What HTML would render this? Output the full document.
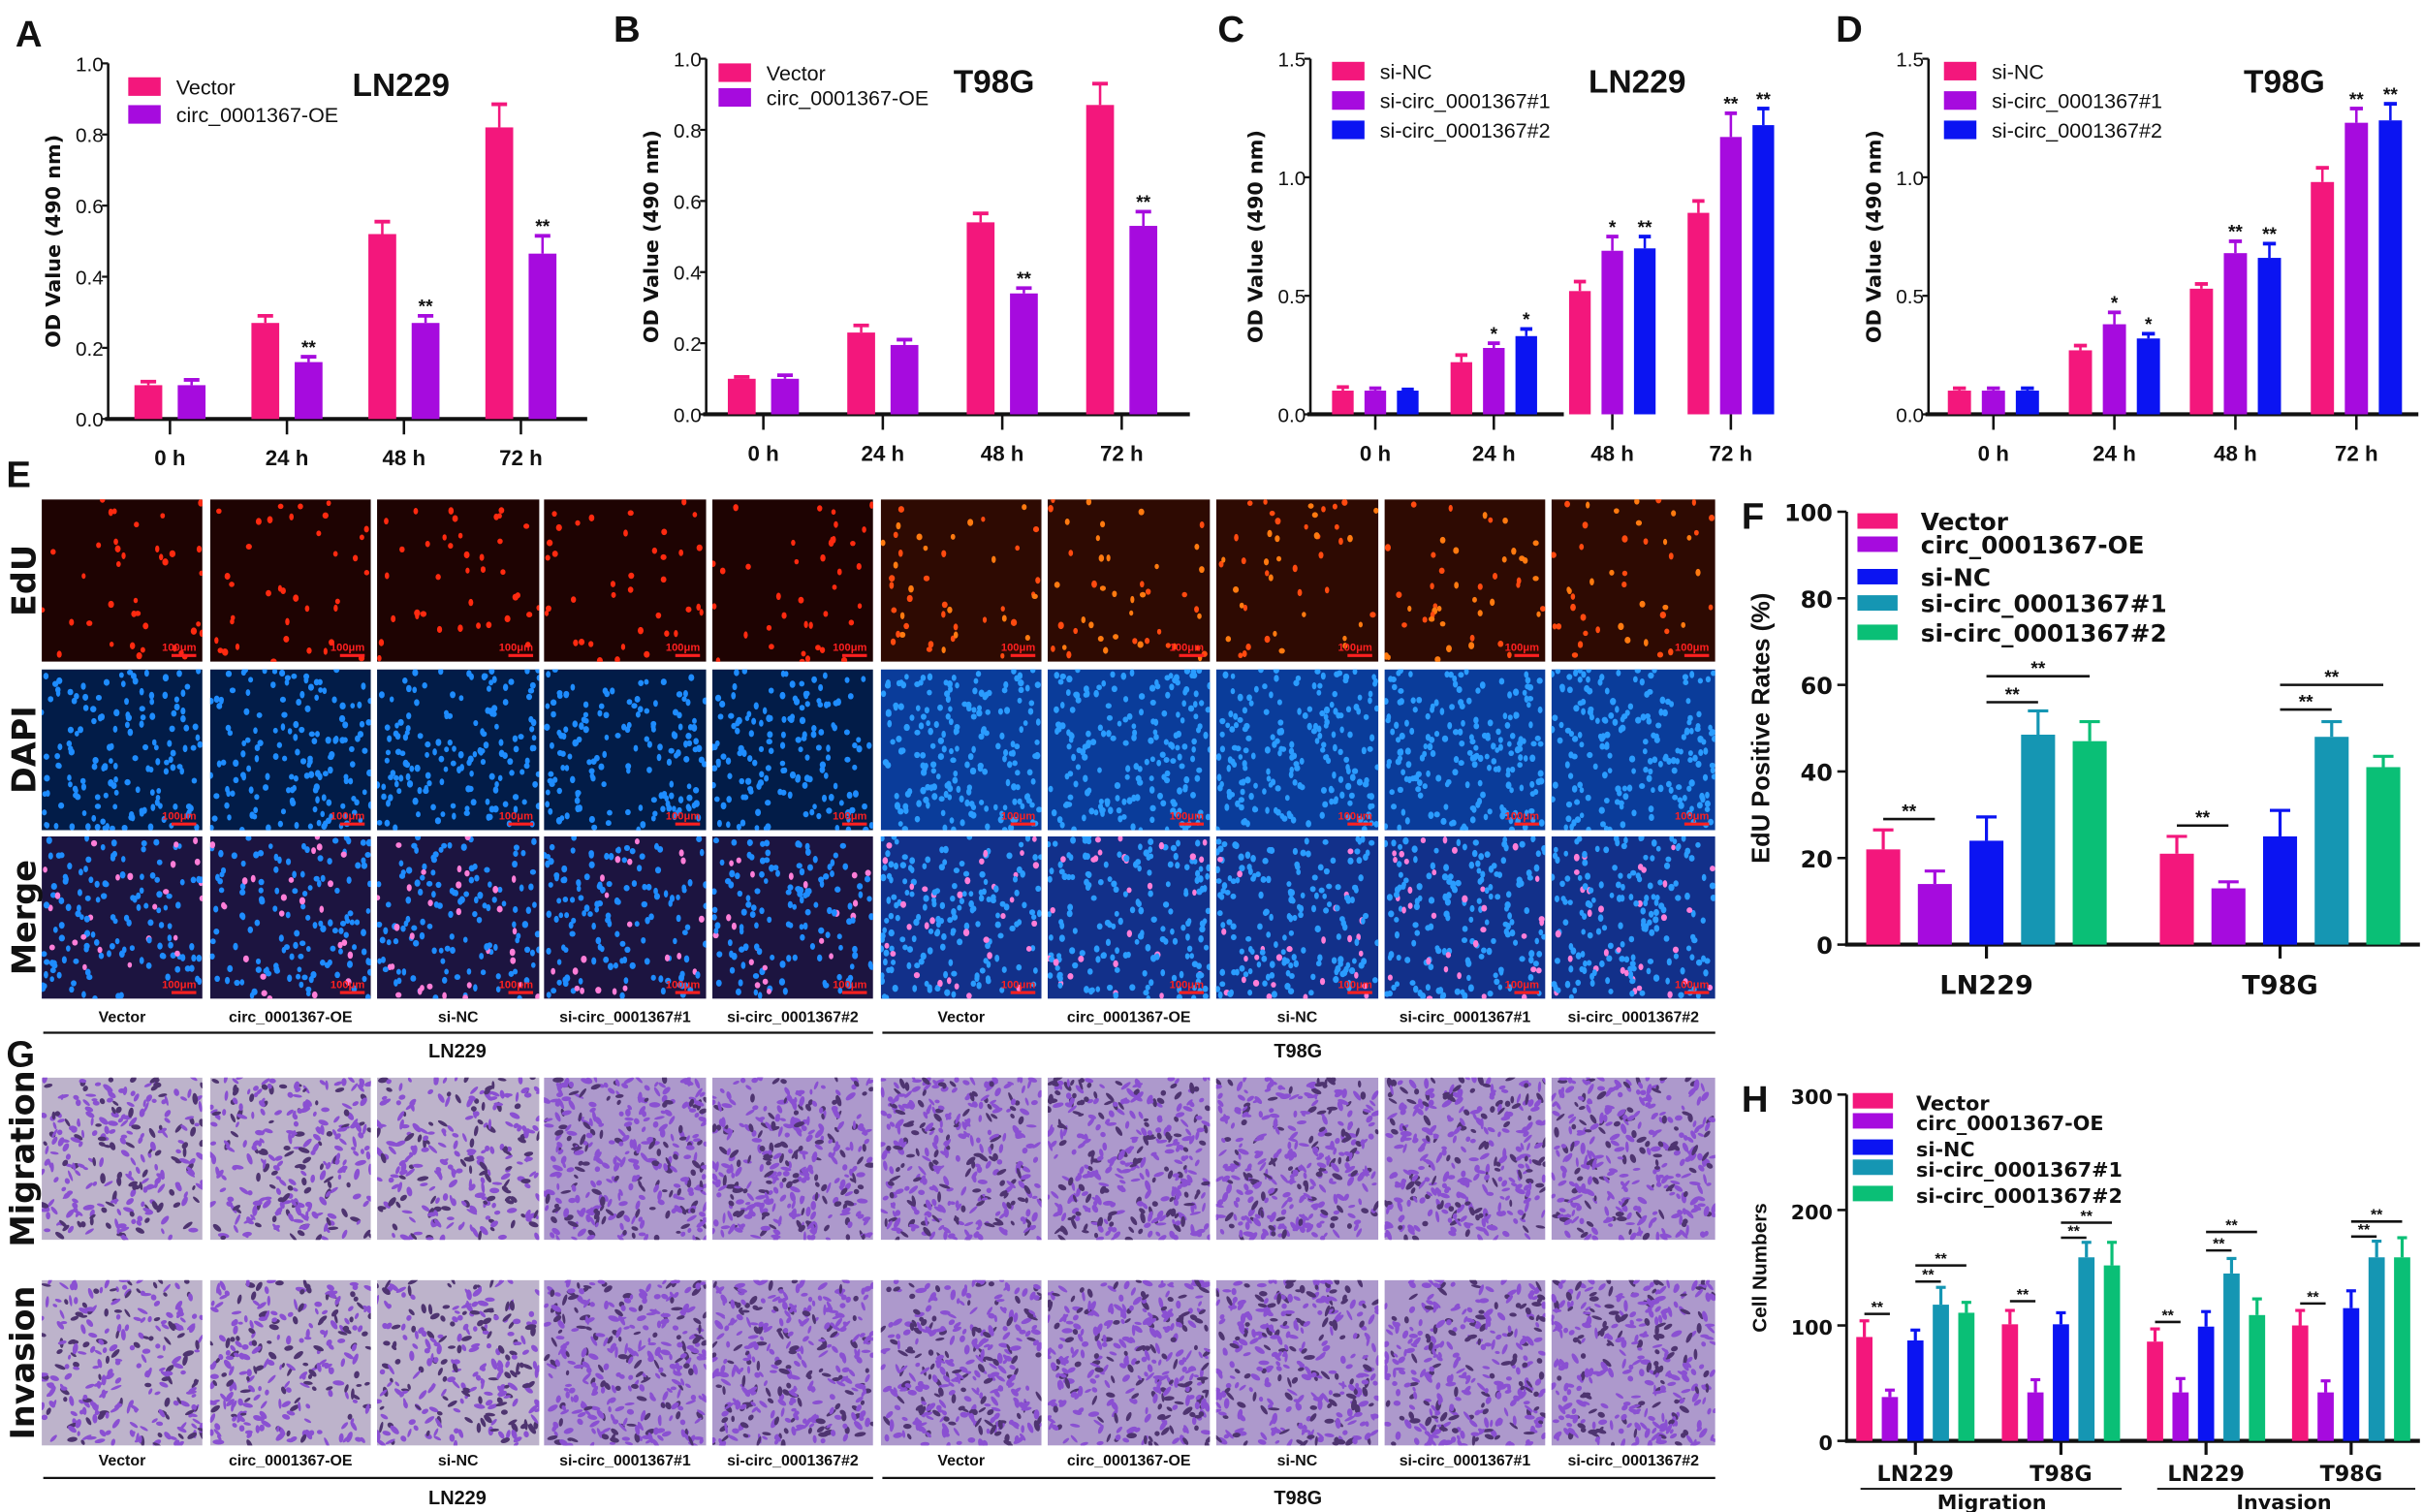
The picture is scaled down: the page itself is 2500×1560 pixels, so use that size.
<!DOCTYPE html>
<html><head><meta charset="utf-8">
<style>
html,body{margin:0;padding:0;background:#fff;}
svg{display:block;font-family:"Liberation Sans",Arial,sans-serif;}
</style></head>
<body>
<svg id="fig" width="2500" height="1560" viewBox="0 0 1568 978" preserveAspectRatio="none" xmlns="http://www.w3.org/2000/svg">
<defs id="defs"></defs>
<rect x="0" y="0" width="1568" height="978" fill="#fff"/>
</svg>
<script>
// ---------- DATA ----------
const timeLabels = ['0 h','24 h','48 h','72 h'];
const aVector    = [0.095, 0.27, 0.52, 0.82];
const aVectorErr = [0.105, 0.29, 0.555, 0.885];
const aOE        = [0.095, 0.16, 0.27, 0.465];
const aOEErr     = [0.11, 0.175, 0.29, 0.515];
const aOEStars   = ['', '**', '**', '**'];
const bVector    = [0.10, 0.23, 0.54, 0.87];
const bVectorErr = [0.105, 0.25, 0.565, 0.93];
const bOE        = [0.10, 0.195, 0.34, 0.53];
const bOEErr     = [0.11, 0.21, 0.355, 0.57];
const bOEStars   = ['', '', '**', '**'];
const cNC        = [0.10, 0.22, 0.52, 0.85];
const cNCErr     = [0.115, 0.25, 0.56, 0.90];
const cSi1       = [0.10, 0.28, 0.69, 1.17];
const cSi1Err    = [0.11, 0.30, 0.75, 1.27];
const cSi2       = [0.10, 0.33, 0.70, 1.22];
const cSi2Err    = [0.105, 0.36, 0.75, 1.29];
const cSi1Stars  = ['', '*', '*', '**'];
const cSi2Stars  = ['', '*', '**', '**'];
const dNC        = [0.10, 0.27, 0.53, 0.98];
const dNCErr     = [0.11, 0.29, 0.55, 1.04];
const dSi1       = [0.10, 0.38, 0.68, 1.23];
const dSi1Err    = [0.11, 0.43, 0.73, 1.29];
const dSi2       = [0.10, 0.32, 0.66, 1.24];
const dSi2Err    = [0.11, 0.34, 0.72, 1.31];
const dSi1Stars  = ['', '*', '**', '**'];
const dSi2Stars  = ['', '*', '**', '**'];
const odTicks05  = [0, 0.2, 0.4, 0.6, 0.8, 1.0];
const odTicks15  = [0, 0.5, 1.0, 1.5];

const groupSeries = ['Vector','circ_0001367-OE','si-NC','si-circ_0001367#1','si-circ_0001367#2'];
const fGroups   = ['LN229','T98G'];
const fValues   = [[22,14,24,48.5,47],[21,13,25,48,41]];
const fErrs     = [[26.5,17,29.5,54,51.5],[25,14.5,31,51.5,43.5]];
const fTicks    = [0,20,40,60,80,100];
const fBrackets = [[0,0,1,29],[0,2,3,56],[0,2,4,62],[1,0,1,27.5],[1,2,3,54.3],[1,2,4,60]];
const hGroups   = ['LN229','T98G','LN229','T98G'];
const hValues   = [[90,38,87,118,111],[101,42,101,159,152],[86,42,99,145,109],[100,42,115,159,159]];
const hErrs     = [[104,44,96,133,120],[113,53,111,172,172],[97,54,112,158,123],[113,52,130,173,176]];
const hTicks    = [0,100,200,300];
const hBrackets = [[0,0,1,110],[0,2,3,138],[0,2,4,152],[1,0,1,121],[1,2,3,176],[1,2,4,189],
                   [2,0,1,103],[2,2,3,165],[2,2,4,181],[3,0,1,119],[3,2,3,177],[3,2,4,190]];

// ---------- HELPERS ----------
const NS='http://www.w3.org/2000/svg';
const svg=document.getElementById('fig');
const defs=document.getElementById('defs');
const PINK='#f3177c', PURPLE='#a60bde', BLUE='#0b14f2', TEAL='#1596b3', GREEN='#0abf76';
function mk(tag,attrs,parent,text){const e=document.createElementNS(NS,tag);for(const k in attrs)e.setAttribute(k,attrs[k]);if(text!==undefined)e.textContent=text;(parent||svg).appendChild(e);return e;}
function txt(parent,x,y,s,size,opts){opts=opts||{};const a={x:x,y:y,'font-size':size,'font-weight':opts.w||'bold','text-anchor':opts.a||'start',fill:opts.fill||'#111'};if(opts.t)a.transform=opts.t;if(opts.ls)a['letter-spacing']=opts.ls;if(opts.f)a['font-family']=opts.f;const e=mk('text',a,parent,s);return e;}

// ---------- TIME CHART (A-D) ----------
function drawTimeChart(c){
  const g=mk('g',{});
  
  
  const y=v=>c.yBot-(v/c.ymax)*(c.yBot-c.yTop);
  const pl=txt(g,c.ax-60,c.yTop-11,c.letter,24);
  
  
  const ya=mk('line',{x1:c.ax,y1:c.yTop,x2:c.ax,y2:c.yBot,stroke:'#111','stroke-width':1.6},g);
  
  
  const xa=mk('line',{x1:c.ax-2,y1:c.yBot,x2:c.axEnd,y2:c.yBot,stroke:'#111','stroke-width':2.6},g);
  
  
  c.ticks.forEach(t=>{
    mk('line',{x1:c.ax-4,y1:y(t),x2:c.ax,y2:y(t),stroke:'#111','stroke-width':1.4},g);
    const tl=txt(g,c.ax-3,y(t)+5,t.toFixed(1),13,{a:'end',w:'normal'});
    
    
  });
  const yt=txt(g,0,0,'OD Value (490 nm)',13,{a:'middle',f:'"DejaVu Sans",sans-serif',t:`translate(${c.ax-31},${(c.yTop+c.yBot)/2}) rotate(-90)`});
  
  
  timeLabels.forEach((lab,i)=>{
    const cx=c.c0+i*c.step;
    mk('line',{x1:cx,y1:c.yBot,x2:cx,y2:c.yBot+10,stroke:'#111','stroke-width':1.6},g);
    const xl=txt(g,cx,c.yBot+30,lab,14,{a:'middle'});
    
    
    c.series.forEach((s,j)=>{
      const bx=cx+c.offsets[j];
      const top=y(s.vals[i]), et=y(s.errs[i]);
      const r=mk('rect',{x:bx-c.bw/2,y:top,width:c.bw,height:c.yBot-top,fill:s.color},g);
      
      
      mk('line',{x1:bx,y1:top,x2:bx,y2:et,stroke:s.color,'stroke-width':1.6},g);
      mk('line',{x1:bx-c.bw*0.28,y1:et,x2:bx+c.bw*0.28,y2:et,stroke:s.color,'stroke-width':2.4},g);
      if(s.stars && s.stars[i]){
        const st=txt(g,bx,et-2,s.stars[i],12,{a:'middle'});
        
        
      }
    });
  });
  c.series.forEach((s,j)=>{
    const ly=c.legY+j*c.legDy;
    const sw=mk('rect',{x:c.legX,y:ly-6,width:21,height:12,fill:s.color},g);
    
    
    const lt=txt(g,c.legX+31,ly+5,s.label,13.5,{w:'normal'});
    
    
  });
  const tt=txt(g,c.titleX,c.titleY,c.title,21);
  
  
}
drawTimeChart({name:'chart-a',letter:'A',ax:70,yTop:41,yBot:271,axEnd:380,ymax:1.0,ticks:odTicks05,c0:110,step:75.7,bw:18,offsets:[-14,14],
  legX:83,legY:56,legDy:18,titleX:228,titleY:62,title:'LN229',
  series:[{key:'vector',label:'Vector',color:PINK,vals:aVector,errs:aVectorErr},{key:'oe',label:'circ_0001367-OE',color:PURPLE,vals:aOE,errs:aOEErr,stars:aOEStars}]});
drawTimeChart({name:'chart-b',letter:'B',ax:457,yTop:38,yBot:268,axEnd:770,ymax:1.0,ticks:odTicks05,c0:494,step:77.3,bw:18,offsets:[-14,14],
  legX:465,legY:47,legDy:16,titleX:617,titleY:60,title:'T98G',
  series:[{key:'vector',label:'Vector',color:PINK,vals:bVector,errs:bVectorErr},{key:'oe',label:'circ_0001367-OE',color:PURPLE,vals:bOE,errs:bOEErr,stars:bOEStars}]});
drawTimeChart({name:'chart-c',letter:'C',ax:848,yTop:38,yBot:268,axEnd:1012,ymax:1.5,ticks:odTicks15,c0:890,step:76.7,bw:14,offsets:[-21,0,21],
  legX:862,legY:46,legDy:19,titleX:1028,titleY:60,title:'LN229',
  series:[{key:'si-nc',label:'si-NC',color:PINK,vals:cNC,errs:cNCErr},{key:'si1',label:'si-circ_0001367#1',color:PURPLE,vals:cSi1,errs:cSi1Err,stars:cSi1Stars},{key:'si2',label:'si-circ_0001367#2',color:BLUE,vals:cSi2,errs:cSi2Err,stars:cSi2Stars}]});
drawTimeChart({name:'chart-d',letter:'D',ax:1248,yTop:38,yBot:268,axEnd:1565,ymax:1.5,ticks:odTicks15,c0:1290,step:78.3,bw:15,offsets:[-22,0,22],
  legX:1258,legY:46,legDy:19,titleX:1452,titleY:60,title:'T98G',
  series:[{key:'si-nc',label:'si-NC',color:PINK,vals:dNC,errs:dNCErr},{key:'si1',label:'si-circ_0001367#1',color:PURPLE,vals:dSi1,errs:dSi1Err,stars:dSi1Stars},{key:'si2',label:'si-circ_0001367#2',color:BLUE,vals:dSi2,errs:dSi2Err,stars:dSi2Stars}]});

// ---------- GROUPED CHART (F,H) ----------
const groupColors=[PINK,PURPLE,BLUE,TEAL,GREEN];
function drawGroupChart(c){
  const g=mk('g',{});
  
  
  const y=v=>c.yBot-(v/c.ymax)*(c.yBot-c.yTop);
  const pl=txt(g,c.ax-68,c.yTop+11,c.letter,24);
  
  
  const ya=mk('line',{x1:c.ax,y1:c.yTop,x2:c.ax,y2:c.yBot,stroke:'#111','stroke-width':1.8},g);
  
  
  const xa=mk('line',{x1:c.ax-1,y1:c.yBot,x2:c.axEnd,y2:c.yBot,stroke:'#111','stroke-width':2.6},g);
  
  
  c.ticks.forEach(t=>{
    mk('line',{x1:c.ax-6,y1:y(t),x2:c.ax,y2:y(t),stroke:'#111','stroke-width':1.6},g);
    const tl=txt(g,c.ax-9,y(t)+6,String(t),c.tickSize,{a:'end',f:'"DejaVu Sans",sans-serif'});
    
    
  });
  const yt=txt(g,0,0,c.yTitle,c.yTitleSize,{a:'middle',t:`translate(${c.yTitleX},${(c.yTop+c.yBot)/2}) rotate(-90)`});
  
  
  const bxOf=(gi,j)=>c.centers[gi]+(j-2)*c.sp;
  c.groups.forEach((lab,gi)=>{
    const cx=c.centers[gi];
    mk('line',{x1:cx,y1:c.yBot,x2:cx,y2:c.yBot+9,stroke:'#111','stroke-width':2},g);
    const xl=txt(g,cx,c.labY,lab,c.labSize,{a:'middle',f:'"DejaVu Sans",sans-serif'});
    
    
    c.values[gi].forEach((v,j)=>{
      const bx=bxOf(gi,j), top=y(v), et=y(c.errs[gi][j]);
      const r=mk('rect',{x:bx-c.bw/2,y:top,width:c.bw,height:c.yBot-top,fill:groupColors[j]},g);
      
      
      mk('line',{x1:bx,y1:top,x2:bx,y2:et,stroke:groupColors[j],'stroke-width':2},g);
      mk('line',{x1:bx-c.bw*0.3,y1:et,x2:bx+c.bw*0.3,y2:et,stroke:groupColors[j],'stroke-width':2},g);
    });
  });
  c.brackets.forEach(b=>{
    const x1=bxOf(b[0],b[1]), x2=bxOf(b[0],b[2]), yy=y(b[3]);
    const bl=mk('line',{x1:x1,y1:yy,x2:x2,y2:yy,stroke:'#111','stroke-width':1.6},g);
    
    
    const st=txt(g,(x1+x2)/2,yy-1,'**',c.starSize,{a:'middle'});
    
    
  });
  groupSeries.forEach((s,j)=>{
    const ly=c.legYs[j];
    const sw=mk('rect',{x:c.legX,y:ly-5,width:26,height:10,fill:groupColors[j]},g);
    
    
    const lt=txt(g,c.legX+41,ly+6,s,c.legSize,{f:'"DejaVu Sans",sans-serif'});
    
    
  });
}
drawGroupChart({name:'chart-f',letter:'F',ax:1195,axEnd:1566,yTop:331,yBot:611,ymax:100,ticks:fTicks,tickSize:15,
  yTitle:'EdU Positive Rates (%)',yTitleSize:16,yTitleX:1145,groups:fGroups,values:fValues,errs:fErrs,brackets:fBrackets,
  centers:[1285.5,1475.5],sp:33.4,bw:22,labY:643,labSize:17,starSize:12,legX:1202,legYs:[337,352,373,390,409],legSize:15.5});
drawGroupChart({name:'chart-h',letter:'H',ax:1195,axEnd:1566,yTop:708,yBot:932,ymax:300,ticks:hTicks,tickSize:13,
  yTitle:'Cell Numbers',yTitleSize:13,yTitleX:1143,groups:hGroups,values:hValues,errs:hErrs,brackets:hBrackets,
  centers:[1239.5,1333.7,1427.6,1521.5],sp:16.5,bw:10.5,labY:958,labSize:14,starSize:10,legX:1199,legYs:[712,725,742,755,772],legSize:13});
(function(){
  const l1=mk('line',{x1:1204,y1:963,x2:1373,y2:963,stroke:'#111','stroke-width':1.2});
  
  
  const l2=mk('line',{x1:1396,y1:963,x2:1563,y2:963,stroke:'#111','stroke-width':1.2});
  
  
  const t1=txt(svg,1289,976,'Migration',13,{a:'middle',f:'"DejaVu Sans",sans-serif'});
  
  
  const t2=txt(svg,1478,976,'Invasion',13,{a:'middle',f:'"DejaVu Sans",sans-serif'});
  
  
})();

// ---------- MICROGRAPHS (E,G) ----------
let seed=12345;
function rnd(){seed|=0;seed=seed+0x6D2B79F5|0;let t=Math.imul(seed^seed>>>15,1|seed);t=t+Math.imul(t^t>>>7,61|t)^t;return((t^t>>>14)>>>0)/4294967296;}
const colX=[[27,131],[136,240],[244,349],[352,457],[461,565],[570,674],[678,783],[787,892],[896,1000],[1004,1110]];
const colNames=['Vector','circ_0001367-OE','si-NC','si-circ_0001367#1','si-circ_0001367#2'];
let clipId=0;
function cell(x0,x1,y0,y1,kind,ci,name){
  const w=x1-x0,h=y1-y0;
  const id='cl'+(clipId++);
  const cp=mk('clipPath',{id:id},defs);mk('rect',{x:x0,y:y0,width:w,height:h},cp);
  const g=mk('g',{'clip-path':`url(#${id})`});
  
  
  const t98=ci>=5;
  if(kind==='edu'){
    mk('rect',{x:x0,y:y0,width:w,height:h,fill:t98?'#2e0a02':'#1e0302'},g);
    const n=t98?45:38;
    for(let i=0;i<n;i++)mk('ellipse',{cx:x0+rnd()*w,cy:y0+rnd()*h,rx:1.3+rnd()*0.7,ry:1.7+rnd()*0.7,fill:t98?(rnd()<0.5?'#ff7a10':'#ff4a10'):'#ff2a10'},g);
  }else if(kind==='dapi'||kind==='merge'){
    mk('rect',{x:x0,y:y0,width:w,height:h,fill:kind==='dapi'?(t98?'#0a3c9a':'#021c48'):(t98?'#12308a':'#1c1440')},g);
    const n=t98?190:150;
    for(let i=0;i<n;i++){
      const pinkDot=kind==='merge'&&rnd()<0.15;
      mk('ellipse',{cx:x0+rnd()*w,cy:y0+rnd()*h,rx:1.4+rnd()*0.6,ry:1.8+rnd()*0.6,fill:pinkDot?'#ff7ed8':(t98?'#2a9cff':'#1e8cff')},g);
    }
  }else{
    const dense=(ci%5>=3)||t98;
    mk('rect',{x:x0,y:y0,width:w,height:h,fill:dense?'#ad99cc':'#bdb3cb'},g);
    const n=dense?330:260;
    for(let i=0;i<n;i++){
      const cx=x0+rnd()*w,cy=y0+rnd()*h,a=rnd()*180;
      mk('ellipse',{cx:cx,cy:cy,rx:1.6+rnd()*2.2,ry:0.9+rnd()*0.9,transform:`rotate(${a} ${cx} ${cy})`,fill:rnd()<0.3?'#4e3470':'#8a50d2'},g);
    }
  }
  if(kind==='edu'||kind==='dapi'||kind==='merge'){
    mk('text',{x:x1-4,y:y1-7,'font-size':7,'text-anchor':'end',fill:'#ff2020','font-weight':'bold'},g,'100μm');
    mk('line',{x1:x1-20,y1:y1-4,x2:x1-4,y2:y1-4,stroke:'#ff2020','stroke-width':2},g);
  }
}
const eRows=[['edu',323,428,'EdU'],['dapi',433,537,'DAPI'],['merge',541,646,'Merge']];
eRows.forEach(r=>{
  colX.forEach((c,ci)=>cell(c[0],c[1],r[1],r[2],r[0],ci,'micrograph-'+r[0]+'-'+ci));
  const rl=txt(svg,0,0,r[3],21,{a:'middle',t:`translate(23,${(r[1]+r[2])/2}) rotate(-90)`,f:'"DejaVu Sans",sans-serif'});
  
  
});
const gRows=[['migration',697,802,'Migration'],['invasion',828,935,'Invasion']];
gRows.forEach(r=>{
  colX.forEach((c,ci)=>cell(c[0],c[1],r[1],r[2],r[0],ci,'micrograph-'+r[0]+'-'+ci));
  const rl=txt(svg,0,0,r[3],21,{a:'middle',t:`translate(22,${(r[1]+r[2])/2}) rotate(-90)`,f:'"DejaVu Sans",sans-serif'});
  
  
});
function columnLabels(yl,yline,yg){
  colX.forEach((c,ci)=>{
    const t=txt(svg,(c[0]+c[1])/2,yl,colNames[ci%5],10,{a:'middle'});
    
    
  });
  const l1=mk('line',{x1:28,y1:yline,x2:565,y2:yline,stroke:'#111','stroke-width':1.4});
  
  
  const l2=mk('line',{x1:571,y1:yline,x2:1110,y2:yline,stroke:'#111','stroke-width':1.4});
  
  
  const g1=txt(svg,296,yg,'LN229',12.5,{a:'middle'});
  
  
  const g2=txt(svg,840,yg,'T98G',12.5,{a:'middle'});
  
  
}
columnLabels(661,668,684);
columnLabels(948,956,973);
const le=txt(svg,4,315,'E',24);


const lg=txt(svg,4,690,'G',24);


</script>
</body></html>
